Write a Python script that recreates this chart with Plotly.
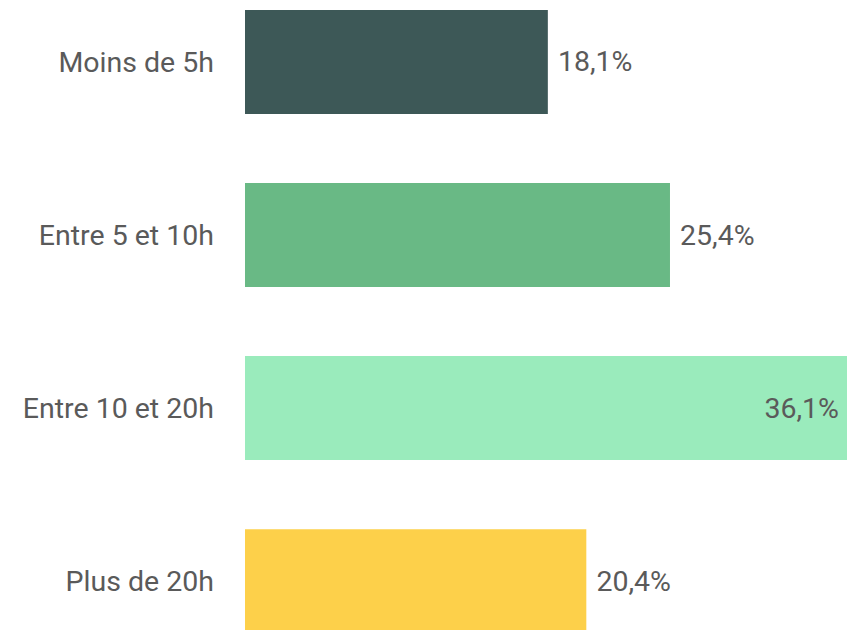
import plotly.graph_objects as go

categories = ["Moins de 5h", "Entre 5 et 10h", "Entre 10 et 20h", "Plus de 20h"]
values = [18.1, 25.4, 36.1, 20.4]
colors = ["#3d5857", "#69b985", "#9aebbc", "#fdd04a"]
text_positions = ["outside", "outside", "inside", "outside"]

labels = []
for v, p in zip(values, text_positions):
    s = f"{v:.1f}".replace(".", ",") + "%"
    labels.append(("\u00a0" + s) if p == "outside" else (s + "\u00a0"))

fig = go.Figure(go.Bar(
    y=categories,
    x=values,
    orientation="h",
    marker=dict(color=colors, line=dict(width=0)),
    text=labels,
    textposition=text_positions,
    insidetextanchor="end",
    textfont=dict(family="Roboto", size=28.5, color="#5a5a5a"),
    cliponaxis=False,
    hoverinfo="skip",
))

fig.update_layout(
    width=847, height=622,
    margin=dict(l=237, r=6, t=0, b=0),
    paper_bgcolor="white", plot_bgcolor="white",
    bargap=0.4,
    showlegend=False,
    font=dict(family="Roboto", size=28.5, color="#5a5a5a"),
)
fig.update_xaxes(range=[0, max(values)], visible=False, showgrid=False, zeroline=False)
fig.update_yaxes(
    type="category",
    categoryorder="array", categoryarray=categories,
    range=[3.283, -0.312],
    showgrid=False, zeroline=False, showline=False,
    ticks="", ticklabelstandoff=30,
    tickfont=dict(family="Roboto", size=28.5, color="#5a5a5a"),
)

fig.write_html("out.html")
